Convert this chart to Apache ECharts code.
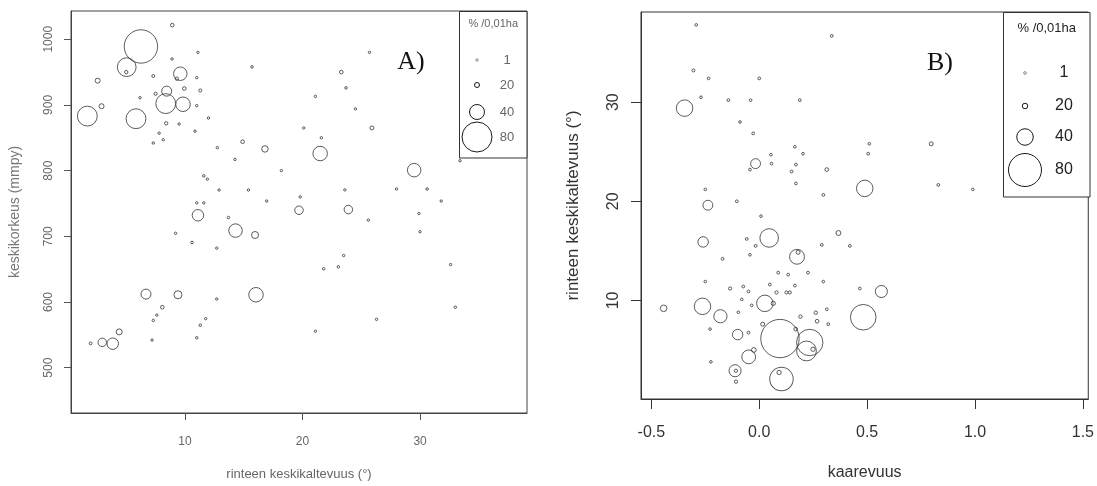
<!DOCTYPE html>
<html>
<head>
<meta charset="utf-8">
<script src="https://cdn.jsdelivr.net/npm/echarts@6/dist/echarts.min.js"></script>
<style>
html,body{margin:0;padding:0;background:#fff;}
#c{width:1097px;height:486px;}
</style>
</head>
<body>
<div id="c"></div>
<script>
// ---------- Panel A data: slope (°), elevation (m), % /0,01ha ----------
const aSlope = [8.92,6.25,5.04,5.0,2.57,7.3,9.6,9.3,8.44,7.5,9.94,11.3,8.36,9.83,2.9,1.69,5.83,8.4,14.9,16.8,11.1,14.3,15.96,6.68,9.4,16.04,8.07,4.4,1.97,2.96,3.85,23.3,25.9,21.5,29.5,19.7,23.9,15.7,
  11.1,8.9,11.0,11.0,6.17,9.5,12.0,7.8,7.3,8.15,10.85,12.75,14.25,11.6,11.9,12.9,15.4,11.0,11.6,13.7,9.2,10.6,12.7,12.7,7.6,7.3,11.76,11.3,11.0,7.2,
  25.7,23.7,21.1,24.5,20.1,21.6,18.2,33.4,28.0,30.6,31.8,23.6,19.8,16.95,25.6,29.9,30.0,23.5,23.05,21.8,32.6,33.0,26.3,21.1];
const aElev = [1021.5,989,957.5,950,937,944,947.5,940,921,917,925,922,902,901,898,883,879,872,844,833,732,708.7,702,612,611,611,592,554.5,537,538.5,536.5,950,865,826,800.7,739.7,740.7,958,
  980,970,941.5,899,911,871,880,857,842,847,860,835,817,792,787,770.5,770.5,751,751,728.6,704.6,690.7,682,604.6,580,572,574.6,564.6,545.5,542,
  980,926,913,894,865,850,800,815,772,772,753.7,770.7,760,753.7,724.6,734.7,707,670.7,653.6,650.6,657,592,573.6,555.5];
const aPct = [10,89,50,8,20,5,37,8,30,6,10,6,53,39,20,53,53,8,10,23,33,37,24,30,26,39,10,22,5,27,33,10,12,39,37,27,27,2,
  1,1,1,1,1,1,1,1,1,1,1,1,1,2,1,1,1,1,1,2,1,2,1,1,1,1,1,2,2,1,
  1,2,1,1,1,1,1,1,1,2,1,1,1,1,1,1,1,1,2,2,1,2,1,1];

// ---------- Panel B data: curvature, slope (°), % /0,01ha ----------
const bCurv = [-0.346,-0.017,-0.238,0.046,-0.26,0.175,0.18,0.797,0.313,0.489,0.367,0.566,0.482,-0.443,-0.263,-0.18,0.026,0.065,-0.1,0.016,0.096,0.234,0.219,0.249,0.103,0.092,-0.049,-0.025,-0.112,-0.108,-0.108,0.262,0.268,0.191,0.169,0.08,0.126,0.142,-0.135,
  -0.292,-0.305,-0.235,0.0,-0.27,-0.143,-0.04,0.188,-0.089,-0.028,0.165,0.203,0.054,0.057,0.15,0.17,0.17,-0.043,-0.25,-0.104,0.008,0.336,0.51,0.505,0.297,0.83,0.99,0.29,0.42,0.466,0.297,-0.058,-0.017,-0.17,-0.043,0.088,0.134,0.165,0.049,0.226,-0.25,-0.074,-0.05,-0.081,-0.035,-0.097,-0.228,-0.05,-0.224,0.313,0.32];
const bSlope = [29.4,23.8,19.6,16.3,15.9,14.4,14.85,25.8,23.2,21.3,16.8,10.9,8.3,9.2,9.4,8.4,9.7,9.7,6.55,7.6,6.15,5.75,4.9,5.07,2.06,2.73,4.3,5.0,2.9,2.9,1.8,8.76,7.9,8.36,7.1,10.8,10.8,10.8,11.2,
  37.8,33.2,32.4,32.4,30.5,30.2,30.2,30.2,28.0,26.85,25.5,24.8,24.7,23.8,23.0,23.7,21.8,23.2,21.2,20.0,18.5,36.7,25.8,24.8,20.65,21.65,21.2,15.6,15.5,11.2,11.9,16.2,15.5,14.2,14.6,12.8,12.6,11.5,11.6,12.8,11.9,11.4,10.9,10.1,9.5,8.8,7.1,6.75,3.8,9.1,7.6];
const bPct = [40,28,28,45,29,37,10,10,8,40,16,32,62,22,40,34,40,12,29,10,93,64,48,12,57,12,35,15,32,5,6,6,8,6,8,5,4,4,5,
  1,3,1,2,1,2,1,2,1,2,1,1,1,1,2,2,2,2,1,2,1,2,1,2,2,2,1,2,2,2,1,2,2,2,1,2,2,2,2,2,1,2,2,1,1,1,1,2,1,2,2];

// ---------- Legend values & ticks ----------
const legendValues = [1, 20, 40, 80];
const legendTitle = '% /0,01ha';
const aXTicks = [10, 20, 30];
const aYTicks = [500, 600, 700, 800, 900, 1000];
const bXTicks = [-0.5, 0, 0.5, 1.0, 1.5];
const bYTicks = [10, 20, 30];

// size mapping (value -> diameter in px), matched to the legend circles
function diam(v) {
  if (v <= 20) return 2.4 + (v - 1) * 2.6 / 19;
  if (v <= 40) return 5 + (v - 20) * 0.5;
  return 15 + (v - 40) * 0.375;
}
function diamB(v) { return 1.1 * diam(v); }
function strokeFor(v) { return v <= 1 ? '#8c8c8c' : (v < 5 ? '#555' : '#1a1a1a'); }

const aData = aSlope.map((x, i) => [x, aElev[i], aPct[i]]);
const bData = bCurv.map((x, i) => [x, bSlope[i], bPct[i]]);

const chart = echarts.init(document.getElementById('c'), null, {renderer: 'canvas'});

const gridA = {left: 71, top: 11, width: 456, height: 408};
const gridB = {left: 641, top: 12, width: 449, height: 388};

const ptStyle = {
  color: 'rgba(0,0,0,0)',
  borderColor: function (p) { return strokeFor(p.value[2]); },
  borderWidth: 1
};

const legendGraphics = [];
function addLegend(box, titleFont, labelFont, sizeFn, symX, labX, ys, titleY, textColor) {
  legendGraphics.push({
    type: 'rect', shape: {x: box.x, y: box.y, width: box.w, height: box.h},
    style: {fill: '#fff', stroke: '#333', lineWidth: 1}, z: 50
  });
  legendGraphics.push({
    type: 'text', x: box.x + box.w / 2, y: titleY, z: 51,
    style: {text: legendTitle, fill: textColor, font: titleFont, textAlign: 'center', textVerticalAlign: 'middle'}
  });
  legendValues.forEach((v, i) => {
    legendGraphics.push({
      type: 'circle', shape: {cx: symX, cy: ys[i], r: sizeFn(v) / 2}, z: 51,
      style: {fill: 'none', stroke: strokeFor(v), lineWidth: 1}
    });
    legendGraphics.push({
      type: 'text', x: labX, y: ys[i], z: 51,
      style: {text: String(v), fill: textColor, font: labelFont, textAlign: 'center', textVerticalAlign: 'middle'}
    });
  });
}
addLegend({x: 459.5, y: 11.5, w: 67.5, h: 146.5}, '11px "Liberation Sans", Arial', '13px "Liberation Sans", Arial', diam, 477, 507, [60, 85, 112, 137], 24, '#666');
addLegend({x: 1003.5, y: 12.5, w: 86.5, h: 184.5}, '13px "Liberation Sans", Arial', '16px "Liberation Sans", Arial', diamB, 1025, 1064, [73, 106, 137, 170], 28, '#222');

legendGraphics.push({type: 'text', x: 411, y: 62, z: 40,
  style: {text: 'A)', fill: '#111', font: '26px "Liberation Serif", "DejaVu Serif", serif', textAlign: 'center', textVerticalAlign: 'middle'}});
legendGraphics.push({type: 'text', x: 940, y: 63, z: 40,
  style: {text: 'B)', fill: '#111', font: '26px "Liberation Serif", "DejaVu Serif", serif', textAlign: 'center', textVerticalAlign: 'middle'}});

chart.setOption({
  animation: false,
  backgroundColor: '#fff',
  textStyle: {fontFamily: '"Liberation Sans", Arial, sans-serif'},
  grid: [
    Object.assign({show: true, borderColor: '#444', borderWidth: 1, backgroundColor: 'rgba(0,0,0,0)'}, gridA),
    Object.assign({show: true, borderColor: '#333', borderWidth: 1, backgroundColor: 'rgba(0,0,0,0)'}, gridB)
  ],
  xAxis: [
    {
      type: 'value', gridIndex: 0, min: 0.3, max: 39.1,
      axisLine: {show: true, onZero: false, lineStyle: {color: '#444'}},
      axisTick: {show: true, length: 7, customValues: aXTicks, lineStyle: {color: '#555'}},
      axisLabel: {customValues: aXTicks, margin: 23, fontSize: 12, color: '#666'},
      splitLine: {show: false},
      name: 'rinteen keskikaltevuus (°)', nameLocation: 'middle', nameGap: 55,
      nameTextStyle: {fontSize: 13, color: '#666'}
    },
    {
      type: 'value', gridIndex: 1, min: -0.548, max: 1.525,
      axisLine: {show: true, onZero: false, lineStyle: {color: '#333'}},
      axisTick: {show: true, length: 10, customValues: bXTicks, lineStyle: {color: '#333'}},
      axisLabel: {customValues: bXTicks, margin: 26, fontSize: 16, color: '#333',
        formatter: v => v.toFixed(1)},
      splitLine: {show: false},
      name: 'kaarevuus', nameLocation: 'middle', nameGap: 66,
      nameTextStyle: {fontSize: 16, color: '#333'}
    }
  ],
  yAxis: [
    {
      type: 'value', gridIndex: 0, min: 431, max: 1043,
      axisLine: {show: true, onZero: false, lineStyle: {color: '#444'}},
      axisTick: {show: true, length: 7, customValues: aYTicks, lineStyle: {color: '#555'}},
      axisLabel: {customValues: aYTicks, rotate: 90, margin: 16, fontSize: 12, color: '#666',
        formatter: v => String(v)},
      splitLine: {show: false},
      name: 'keskikorkeus (mmpy)', nameLocation: 'middle', nameGap: 49, nameRotate: 90,
      nameTextStyle: {fontSize: 14, color: '#777'}
    },
    {
      type: 'value', gridIndex: 1, min: 0.05, max: 39.1,
      axisLine: {show: true, onZero: false, lineStyle: {color: '#333'}},
      axisTick: {show: true, length: 10, customValues: bYTicks, lineStyle: {color: '#333'}},
      axisLabel: {customValues: bYTicks, rotate: 90, margin: 19, fontSize: 16, color: '#333',
        formatter: v => String(v)},
      splitLine: {show: false},
      name: 'rinteen keskikaltevuus (°)', nameLocation: 'middle', nameGap: 59, nameRotate: 90,
      nameTextStyle: {fontSize: 17, color: '#333'}
    }
  ],
  series: [
    {
      type: 'scatter', xAxisIndex: 0, yAxisIndex: 0, data: aData,
      symbol: 'circle', symbolSize: v => diam(v[2]),
      itemStyle: ptStyle, emphasis: {disabled: true}, z: 10
    },
    {
      type: 'scatter', xAxisIndex: 1, yAxisIndex: 1, data: bData,
      symbol: 'circle', symbolSize: v => diamB(v[2]),
      itemStyle: ptStyle, emphasis: {disabled: true}, z: 10
    }
  ],
  graphic: legendGraphics
});
</script>
</body>
</html>
